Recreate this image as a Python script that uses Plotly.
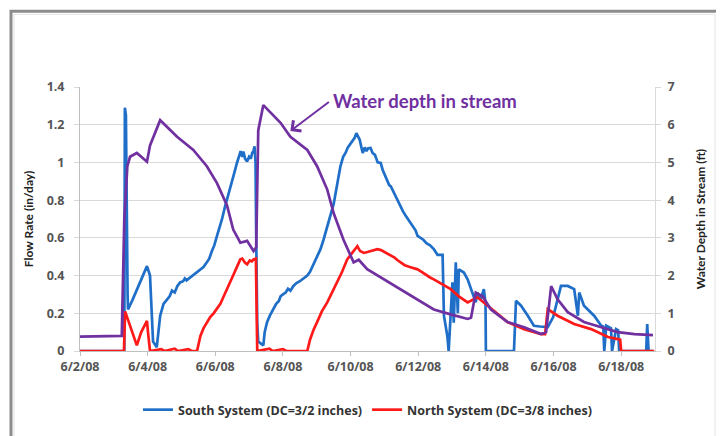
import pandas as pd
import plotly.graph_objects as go

# ---- data (days after 6/2/08) ----
south_days = [0.0, 1.31, 1.327, 1.357, 1.407, 1.42, 1.55, 1.68, 1.85, 1.98, 2.07, 2.16, 2.27,
              2.37, 2.47, 2.57, 2.65, 2.72, 2.8, 2.88, 2.96, 3.05, 3.1, 3.15, 3.25, 3.35, 3.45,
              3.55, 3.65, 3.75, 3.82, 3.9, 3.97, 4.05, 4.12, 4.2, 4.28, 4.35, 4.42, 4.5, 4.57,
              4.64, 4.7, 4.75, 4.8, 4.83, 4.88, 4.94, 5.0, 5.05, 5.09, 5.13, 5.16, 5.19, 5.21,
              5.24, 5.27, 5.35, 5.42,
              5.46, 5.53, 5.62, 5.72, 5.8, 5.88, 5.93, 6.0, 6.08, 6.15, 6.22, 6.31, 6.4, 6.5,
              6.6, 6.72, 6.8, 6.9, 7.0, 7.11, 7.2, 7.3, 7.41, 7.5, 7.6, 7.70, 7.78, 7.85, 7.92,
              8.0, 8.06, 8.12, 8.17, 8.22, 8.27, 8.32, 8.36, 8.42, 8.47, 8.52, 8.59, 8.65, 8.72,
              8.8, 8.89, 8.95, 9.02, 9.08, 9.14, 9.19, 9.25, 9.3, 9.37, 9.42, 9.48, 9.55, 9.62,
              9.7, 9.78, 9.85, 9.92, 9.98, 10.05, 10.15, 10.25, 10.35, 10.46, 10.57, 10.72,
              10.76, 10.86, 10.90, 11.01, 11.05, 11.11, 11.17, 11.20, 11.35, 11.46, 11.61,
              11.70, 11.75, 11.85, 11.94, 11.99, 12.0, 12.83, 12.89, 13.04, 13.24, 13.42, 13.6,
              13.83, 13.99, 14.22, 14.42, 14.61, 14.72, 14.76, 14.90, 15.20, 15.41, 15.47,
              15.50, 15.56, 15.70, 15.73, 15.85, 15.91, 15.94, 16.74, 16.77, 16.81, 16.95]
south_flow = [0.0, 0.0, 1.29, 1.25, 0.30, 0.22, 0.27, 0.327, 0.40, 0.45, 0.40, 0.05, 0.02,
              0.187, 0.25, 0.275, 0.29, 0.32, 0.31, 0.345, 0.364, 0.37, 0.385, 0.375, 0.39,
              0.40, 0.42, 0.43, 0.445, 0.47, 0.49, 0.53, 0.56, 0.61, 0.65, 0.70, 0.76, 0.803,
              0.85, 0.90, 0.95, 0.997, 1.04, 1.06, 1.03, 1.058, 1.02, 1.005, 1.03, 1.02, 1.05,
              1.06, 1.085, 1.0, 0.6, 0.15, 0.05, 0.04, 0.03,
              0.10, 0.153, 0.19, 0.22, 0.25, 0.265, 0.29, 0.30, 0.31, 0.33, 0.32, 0.345, 0.36,
              0.37, 0.385, 0.40, 0.42, 0.46, 0.50, 0.54, 0.59, 0.65, 0.715, 0.78, 0.88, 0.98,
              1.03, 1.05, 1.08, 1.10, 1.12, 1.13, 1.155, 1.14, 1.12, 1.08, 1.05, 1.08, 1.06,
              1.075, 1.077, 1.05, 1.04, 1.00, 0.997, 0.96, 0.93, 0.91, 0.88, 0.873, 0.85, 0.83,
              0.80, 0.79, 0.767, 0.74, 0.72, 0.70, 0.68, 0.66, 0.64, 0.61, 0.60, 0.59, 0.57,
              0.56, 0.54, 0.51, 0.51,
              0.187, 0.08, 0.0, 0.364, 0.15, 0.47, 0.20, 0.433, 0.416, 0.38, 0.31,
              0.258, 0.31, 0.275, 0.328, 0.25, 0.0, 0.0, 0.266, 0.24, 0.187, 0.134, 0.13,
              0.127, 0.18, 0.345, 0.345, 0.328, 0.187, 0.31, 0.24, 0.187, 0.134, 0.13,
              0.0, 0.134, 0.12, 0.0, 0.116, 0.11, 0.0, 0.0, 0.143, 0.0, 0.0]

north_days = [0.0, 1.30, 1.333, 1.48, 1.68, 1.81, 1.98, 2.01, 2.07, 2.4, 2.5, 2.8, 2.9, 3.2, 3.3,
              3.46, 3.52, 3.56, 3.65, 3.75, 3.85, 3.95, 4.05, 4.15, 4.25, 4.35, 4.45, 4.55, 4.65,
              4.74, 4.8, 4.87, 4.94, 5.02, 5.08, 5.13, 5.2, 5.24, 5.6, 5.7, 6.0, 6.1, 6.4,
              6.72, 6.8, 6.9, 7.01, 7.15, 7.31, 7.45, 7.61, 7.75, 7.9, 8.05, 8.2, 8.28, 8.39,
              8.5, 8.6, 8.7, 8.79, 8.9, 9.0, 9.09, 9.2, 9.3, 9.4, 9.48, 9.6, 9.75, 9.88, 9.98,
              10.1, 10.25, 10.35, 10.46, 10.7, 10.96, 11.2, 11.46, 11.75, 12.05, 12.35, 12.64,
              13.13, 13.63, 13.75, 13.83, 14.12, 14.61, 15.11, 15.61, 15.90, 15.97, 16.0, 16.98]
north_flow = [0.0, 0.0, 0.21, 0.13, 0.03, 0.10, 0.16, 0.10, 0.0, 0.01, 0.0, 0.012, 0.0, 0.01, 0.0,
              0.0, 0.04, 0.08, 0.12, 0.153, 0.18, 0.20, 0.222, 0.25, 0.29, 0.327, 0.37, 0.41, 0.45,
              0.486, 0.49, 0.47, 0.46, 0.48, 0.475, 0.486, 0.49, 0.0, 0.012, 0.0, 0.01, 0.0, 0.0,
              0.0, 0.06, 0.11, 0.153, 0.21, 0.258, 0.31, 0.364, 0.42, 0.486, 0.52, 0.556, 0.53,
              0.52, 0.525, 0.53, 0.535, 0.54, 0.535, 0.525, 0.52, 0.505, 0.495, 0.48, 0.47,
              0.455, 0.445, 0.44, 0.433, 0.42, 0.40, 0.39, 0.38, 0.355, 0.328, 0.29, 0.258,
              0.285, 0.24, 0.195, 0.153, 0.116, 0.09, 0.09, 0.222, 0.187, 0.143, 0.116, 0.074,
              0.063, 0.06, 0.0, 0.0]

depth_days = [0.0, 1.235, 1.31, 1.40, 1.48, 1.68, 1.98, 2.07, 2.37, 2.87, 3.35, 3.75, 4.05, 4.35,
              4.53, 4.74, 4.94, 5.13, 5.21, 5.27, 5.42, 5.93, 6.22, 6.72, 7.01, 7.31, 7.50, 7.79,
              8.09, 8.24, 8.49, 8.98, 9.48, 9.98, 10.46, 10.96, 11.46, 11.56, 11.70, 11.90, 12.15,
              12.64, 13.13, 13.63, 13.78, 13.93, 14.12, 14.42, 14.90, 15.41, 15.90, 16.39, 16.94]
depth_ft = [0.38, 0.40, 3.5, 4.9, 5.15, 5.25, 5.02, 5.45, 6.12, 5.68, 5.33, 4.9, 4.45, 3.85, 3.22,
            2.87, 2.92, 2.65, 2.75, 5.85, 6.52, 6.05, 5.68, 5.33, 4.9, 4.28, 3.65, 2.95, 2.35,
            2.42, 2.17, 1.9, 1.64, 1.37, 1.1, 0.97, 0.85, 0.88, 1.55, 1.45, 1.1, 0.77, 0.63,
            0.45, 0.5, 1.72, 1.37, 1.03, 0.77, 0.63, 0.5, 0.45, 0.42]

flow_ticks = [0, 0.2, 0.4, 0.6, 0.8, 1.0, 1.2, 1.4]
flow_tick_labels = ["0", "0.2", "0.4", "0.6", "0.8", "1", "1.2", "1.4"]
depth_ticks = [0, 1, 2, 3, 4, 5, 6, 7]
date_tick_days = [0, 2, 4, 6, 8, 10, 12, 14, 16]
date_tick_labels = ["6/2/08", "6/4/08", "6/6/08", "6/8/08", "6/10/08", "6/12/08",
                    "6/14/08", "6/16/08", "6/18/08"]

base = pd.Timestamp("2008-06-02")
def to_dates(days):
    return base + pd.to_timedelta(days, unit="D")

TFONT = "Open Sans"
TICK_COL = "#555555"
tickfont = dict(family=TFONT, size=12.5, color=TICK_COL, weight="bold")
titlefont = dict(family="Lato", size=12, color="#222222", weight="bold")

fig = go.Figure()
fig.add_trace(go.Scatter(x=to_dates(south_days), y=south_flow, mode="lines",
                         name="South System (DC=3/2 inches)",
                         line=dict(color="#1f6fc9", width=2.7)))
fig.add_trace(go.Scatter(x=to_dates(north_days), y=north_flow, mode="lines",
                         name="North System (DC=3/8 inches)",
                         line=dict(color="#ff1a1a", width=2.7)))
fig.add_trace(go.Scatter(x=to_dates(depth_days), y=depth_ft, mode="lines",
                         name="Water depth", showlegend=False, yaxis="y2",
                         line=dict(color="#7030a0", width=2.7)))

fig.update_layout(
    width=716, height=428,
    margin=dict(l=72, r=69, t=79, b=84),
    paper_bgcolor="white", plot_bgcolor="white",
    font=dict(family=TFONT, size=11, color=TICK_COL),
    xaxis=dict(type="date",
               range=[base, base + pd.Timedelta(days=17)],
               tickmode="array",
               tickvals=to_dates(date_tick_days),
               ticktext=date_tick_labels,
               showgrid=False, showline=True, linecolor="#bfbfbf", linewidth=1,
               ticks="outside", ticklen=4, tickcolor="#bfbfbf",
               tickfont=tickfont, zeroline=False),
    yaxis=dict(range=[0, 1.4], tickvals=flow_ticks, ticktext=flow_tick_labels,
               showgrid=True, gridcolor="#d9d9d9", gridwidth=1,
               showline=True, linecolor="#bfbfbf", linewidth=1,
               ticks="outside", ticklen=5, tickcolor="#d9d9d9",
               ticklabelstandoff=7,
               tickfont=tickfont, zeroline=False,
               title=dict(text="Flow Rate (in/day)", standoff=10, font=titlefont)),
    yaxis2=dict(range=[0, 7], tickvals=depth_ticks, overlaying="y", side="right",
                showgrid=False, showline=True, linecolor="#d9d9d9", linewidth=1,
                ticks="outside", ticklen=5, tickcolor="#d9d9d9",
                ticklabelstandoff=4,
                tickfont=tickfont, zeroline=False,
                title=dict(text="Water Depth in Stream (ft)", standoff=22, font=titlefont)),
    legend=dict(orientation="h", x=0.50, xanchor="center", y=-0.219, yanchor="middle",
                font=dict(family=TFONT, size=12.5, color="#333333", weight="bold"),
                itemwidth=30, bgcolor="rgba(0,0,0,0)"),
    showlegend=True,
)

# annotation text
fig.add_annotation(x=0.6, y=0.947, xref="paper", yref="paper", text="<b>Water depth in stream</b>",
                   showarrow=False, font=dict(family="Lato", size=18.5, color="#7030a0"),
                   xanchor="center", yanchor="middle")
# arrow
fig.add_annotation(x=base + pd.Timedelta(days=6.22), y=1.167, xref="x", yref="y", text="",
                   showarrow=True, arrowhead=4, arrowsize=1.3, arrowwidth=2,
                   arrowcolor="#7030a0", ax=40, ay=-30, standoff=0)

# outer frame
fig.add_shape(type="rect", xref="paper", yref="paper", x0=-0.12, x1=1.1096, y0=-0.33, y1=1.2868,
              line=dict(color="#8c8c8c", width=3), fillcolor="rgba(0,0,0,0)", layer="below")
fig.add_shape(type="rect", xref="paper", yref="paper", x0=-0.1148, x1=1.1044, y0=-0.33, y1=1.2755,
              line=dict(color="#e3e3e3", width=1), fillcolor="rgba(0,0,0,0)", layer="below")

fig.write_html("out.html")
